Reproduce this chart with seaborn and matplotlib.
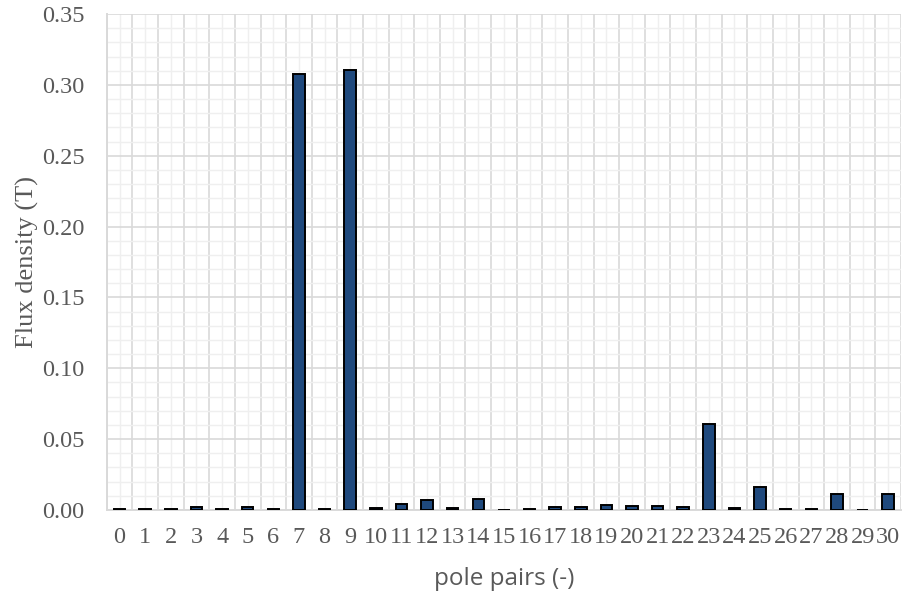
import numpy as np
import pandas as pd
import matplotlib
matplotlib.use("Agg")
import matplotlib.pyplot as plt
import seaborn as sns
from matplotlib.ticker import MultipleLocator, FixedLocator

# harmonic spectrum
pole_pairs = [str(i) for i in range(31)]
flux_density = [0.0005, 0.0008, 0.0005, 0.0020, 0.0010, 0.0023, 0.0010, 0.3075, 0.0005, 0.3105,
                0.0015, 0.0045, 0.0070, 0.0015, 0.0080, 0.0003, 0.0007, 0.0018, 0.0023, 0.0033,
                0.0026, 0.0028, 0.0019, 0.0607, 0.0014, 0.0165, 0.0008, 0.0008, 0.0113, 0.0003,
                0.0113]

df = pd.DataFrame({"pole pairs": pole_pairs, "flux": flux_density})

sns.set_style("white")
plt.rcParams["font.family"] = ["Liberation Serif", "DejaVu Serif"]

text_col = "#595959"
grid_major = "#d9d9d9"
grid_minor = "#efefef"

fig = plt.figure(figsize=(9.05, 6.01), dpi=100)
ax = fig.add_axes([0.118, 0.1514, 0.8776, 0.8253])

sns.barplot(data=df, x="pole pairs", y="flux", color="#1f497d", saturation=1,
            width=0.45, edgecolor="black", linewidth=1.4, ax=ax, zorder=3)

ax.set_xlim(-0.5, 30.5)
ax.set_ylim(0, 0.35)

# y grid: major every 0.05, minor every 0.01
ax.yaxis.set_major_locator(MultipleLocator(0.05))
ax.yaxis.set_minor_locator(MultipleLocator(0.01))
ax.set_yticklabels([f"{v:.2f}" for v in ax.get_yticks()])

# x grid: major lines at category edges, light lines at category centres
ax.xaxis.set_minor_locator(FixedLocator(np.arange(-0.5, 31, 1.0)))

ax.grid(which="major", axis="y", color=grid_major, linewidth=1.2, zorder=0)
ax.grid(which="minor", axis="y", color=grid_minor, linewidth=1.0, zorder=0)
ax.grid(which="minor", axis="x", color=grid_major, linewidth=1.2, zorder=0)
ax.grid(which="major", axis="x", color=grid_minor, linewidth=1.0, zorder=0)
ax.set_axisbelow(True)

ax.tick_params(axis="y", which="major", length=6, width=1.2, color=grid_major,
               labelsize=17.5, labelcolor=text_col, pad=10)
ax.tick_params(axis="y", which="minor", length=0)
ax.tick_params(axis="x", which="major", length=0, labelsize=17.5, labelcolor=text_col, pad=12)
ax.tick_params(axis="x", which="minor", length=7, width=1.2, color=grid_major)

for side in ["top", "right"]:
    ax.spines[side].set_visible(False)
for side in ["left", "bottom"]:
    ax.spines[side].set_color(grid_major)
    ax.spines[side].set_linewidth(1.4)

ax.set_ylabel("Flux density (T)", fontsize=19, color=text_col, labelpad=2)
ax.set_xlabel("pole pairs (-)", fontsize=17.5, color=text_col, labelpad=14,
              family=["Open Sans", "DejaVu Sans"])

fig.savefig("out.png", dpi=100)
